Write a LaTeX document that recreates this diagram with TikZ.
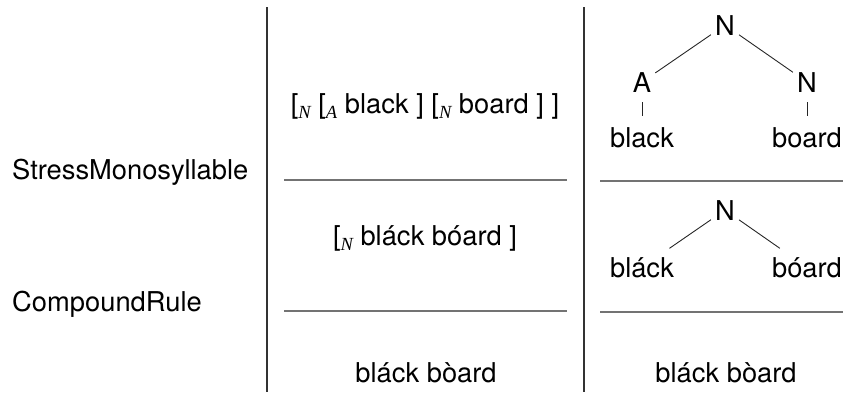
\documentclass[tikz,border=0pt]{standalone}
\usepackage{fontspec}
\setmainfont{TeX Gyre Heros}
\newfontfamily\subfont{Liberation Serif}
% italic category label written as a lowered subscript after a bracket
\newcommand{\cat}[1]{\raisebox{-5.5pt}{\fontsize{18.5}{18.5}\selectfont\subfont\itshape #1}}
\begin{document}
\begin{tikzpicture}[x=1pt,y=-1pt,
  every node/.style={font=\fontsize{27.3}{30}\selectfont, inner sep=0pt},
  colrule/.style={line width=1.3pt, draw=black!80},
  rowrule/.style={line width=1.5pt, draw=black!55},
  treelab/.style={inner sep=4pt},
  branch/.style={line width=0.9pt, draw=black!85}]
\useasboundingbox (0,0) rectangle (844,392);

% column separators
\draw[colrule] (267,7) -- (267,392);
\draw[colrule] (584,7) -- (584,392);

% row separators
\draw[rowrule] (284,180) -- (567,180);
\draw[rowrule] (600,181) -- (843,181);
\draw[rowrule] (284,311) -- (567,311);
\draw[rowrule] (600,312) -- (843,312);

% rule names
\node[anchor=base west] (stress) at (12,179) {StressMonosyllable};
\node[anchor=base west] (compound) at (12,311) {CompoundRule};

% bracketed forms
\node[anchor=base] (form1) at (425,113) {[\cat{N} [\cat{A} black ] [\cat{N} board ] ]};
\node[anchor=base] (form2) at (425,245) {[\cat{N} bláck bóard ]};
\node[anchor=base] (form3) at (426,382) {bláck bòard};

% first tree
\node[treelab, anchor=base] (t1n) at (725,35) {N};
\node[treelab, anchor=base] (t1a) at (642,92) {A};
\node[treelab, anchor=base] (t1m) at (807,92) {N};
\node[treelab, anchor=base] (t1black) at (642,147) {black};
\node[treelab, anchor=base] (t1board) at (807,147) {board};
\draw[branch] (t1n) -- (t1a);
\draw[branch] (t1n) -- (t1m);
\draw[branch, shorten <=6pt, shorten >=7pt] (t1a.south) -- (t1black.north);
\draw[branch, shorten <=6pt, shorten >=7pt] (t1m.south) -- (t1board.north);

% second tree
\node[treelab, anchor=base] (t2n) at (725,220) {N};
\node[treelab, anchor=base] (t2black) at (642,277) {bláck};
\node[treelab, anchor=base] (t2board) at (807,277) {bóard};
\draw[branch, shorten >=8pt] (t2n) -- (t2black);
\draw[branch, shorten >=8pt] (t2n) -- (t2board);

% surface form of the second tree
\node[anchor=base] (form4) at (726,382) {bláck bòard};
\end{tikzpicture}
\end{document}
